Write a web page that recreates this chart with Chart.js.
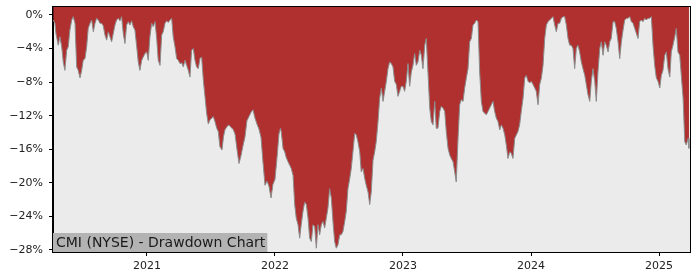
<!DOCTYPE html>
<html>
<head>
<meta charset="utf-8">
<script src="https://cdn.jsdelivr.net/npm/chart.js@4/dist/chart.umd.min.js"></script>
<style>
  html, body { margin: 0; padding: 0; background: #fff; }
  canvas { display: block; }
</style>
</head>
<body>
<canvas id="chart" width="700" height="280"></canvas>
<script>
// drawdown of CMI, dates as decimal years, values in percent
const dates = [
  2020.268, 2020.281, 2020.289, 2020.299, 2020.307, 2020.320, 2020.334, 2020.346, 2020.359, 2020.373,
  2020.385, 2020.398, 2020.412, 2020.424, 2020.438, 2020.451, 2020.463, 2020.477, 2020.490, 2020.502,
  2020.516, 2020.529, 2020.541, 2020.555, 2020.568, 2020.581, 2020.594, 2020.607, 2020.620, 2020.633,
  2020.646, 2020.659, 2020.672, 2020.685, 2020.698, 2020.711, 2020.724, 2020.737, 2020.750, 2020.763,
  2020.776, 2020.789, 2020.802, 2020.815, 2020.828, 2020.841, 2020.854, 2020.867, 2020.880, 2020.893,
  2020.906, 2020.920, 2020.932, 2020.945, 2020.959, 2020.971, 2020.984, 2020.998, 2021.010, 2021.023,
  2021.037, 2021.049, 2021.063, 2021.076, 2021.088, 2021.102, 2021.115, 2021.127, 2021.141, 2021.154,
  2021.166, 2021.180, 2021.193, 2021.205, 2021.219, 2021.232, 2021.245, 2021.258, 2021.271, 2021.284,
  2021.297, 2021.310, 2021.323, 2021.336, 2021.349, 2021.362, 2021.375, 2021.388, 2021.401, 2021.414,
  2021.427, 2021.440, 2021.453, 2021.466, 2021.479, 2021.492, 2021.506, 2021.518, 2021.531, 2021.545,
  2021.557, 2021.570, 2021.586, 2021.598, 2021.609, 2021.625, 2021.641, 2021.656, 2021.672, 2021.688,
  2021.703, 2021.719, 2021.734, 2021.750, 2021.766, 2021.781, 2021.797, 2021.813, 2021.828, 2021.844,
  2021.859, 2021.875, 2021.891, 2021.906, 2021.922, 2021.938, 2021.953, 2021.969, 2021.984, 2022.000,
  2022.016, 2022.031, 2022.043, 2022.049, 2022.063, 2022.076, 2022.088, 2022.102, 2022.115, 2022.127,
  2022.141, 2022.154, 2022.166, 2022.180, 2022.193, 2022.205, 2022.219, 2022.232, 2022.245, 2022.258,
  2022.271, 2022.284, 2022.297, 2022.310, 2022.323, 2022.336, 2022.349, 2022.362, 2022.375, 2022.388,
  2022.401, 2022.414, 2022.427, 2022.440, 2022.453, 2022.466, 2022.479, 2022.492, 2022.506, 2022.518,
  2022.531, 2022.545, 2022.557, 2022.570, 2022.584, 2022.596, 2022.609, 2022.623, 2022.635, 2022.648,
  2022.662, 2022.674, 2022.688, 2022.701, 2022.713, 2022.727, 2022.740, 2022.752, 2022.766, 2022.779,
  2022.791, 2022.805, 2022.818, 2022.831, 2022.844, 2022.857, 2022.870, 2022.883, 2022.896, 2022.909,
  2022.922, 2022.935, 2022.948, 2022.961, 2022.974, 2022.987, 2023.000, 2023.013, 2023.026, 2023.039,
  2023.052, 2023.065, 2023.078, 2023.091, 2023.104, 2023.117, 2023.131, 2023.143, 2023.156, 2023.170,
  2023.182, 2023.195, 2023.209, 2023.221, 2023.234, 2023.248, 2023.260, 2023.273, 2023.287, 2023.299,
  2023.313, 2023.326, 2023.338, 2023.352, 2023.365, 2023.377, 2023.391, 2023.404, 2023.416, 2023.430,
  2023.443, 2023.455, 2023.469, 2023.482, 2023.495, 2023.508, 2023.521, 2023.534, 2023.547, 2023.560,
  2023.573, 2023.586, 2023.599, 2023.612, 2023.625, 2023.638, 2023.651, 2023.664, 2023.677, 2023.690,
  2023.703, 2023.716, 2023.729, 2023.742, 2023.756, 2023.768, 2023.781, 2023.795, 2023.807, 2023.820,
  2023.834, 2023.846, 2023.859, 2023.873, 2023.885, 2023.898, 2023.911, 2023.924, 2023.938, 2023.951,
  2023.963, 2023.977, 2023.990, 2024.002, 2024.016, 2024.029, 2024.041, 2024.055, 2024.068, 2024.081,
  2024.094, 2024.107, 2024.120, 2024.133, 2024.146, 2024.159, 2024.172, 2024.185, 2024.198, 2024.211,
  2024.224, 2024.237, 2024.250, 2024.263, 2024.276, 2024.289, 2024.302, 2024.315, 2024.328, 2024.341,
  2024.354, 2024.367, 2024.380, 2024.393, 2024.406, 2024.420, 2024.432, 2024.445, 2024.459, 2024.471,
  2024.484, 2024.498, 2024.510, 2024.523, 2024.537, 2024.549, 2024.563, 2024.576, 2024.588, 2024.602,
  2024.615, 2024.627, 2024.641, 2024.654, 2024.666, 2024.680, 2024.693, 2024.706, 2024.719, 2024.732,
  2024.745, 2024.758, 2024.771, 2024.784, 2024.797, 2024.810, 2024.823, 2024.836, 2024.849, 2024.862,
  2024.875, 2024.888, 2024.901, 2024.914, 2024.927, 2024.940, 2024.953, 2024.966, 2024.979, 2024.992,
  2025.006, 2025.018, 2025.031, 2025.045, 2025.057, 2025.070, 2025.084, 2025.096, 2025.109, 2025.123,
  2025.135, 2025.148, 2025.162, 2025.174, 2025.188, 2025.201, 2025.213, 2025.227, 2025.234
];

const drawdown = [
  -0.6, -1.0, -2.2, -3.0, -3.6, -2.6, -3.8, -5.6, -6.6, -4.2,
  -3.8, -1.8, -0.6, -0.2, -1.0, -6.2, -6.6, -7.5, -6.6, -5.4,
  -5.2, -3.8, -1.6, -1.0, -0.6, -2.0, -1.0, -0.4, -0.6, -1.0,
  -1.0, -1.3, -2.4, -3.0, -2.0, -2.6, -3.2, -2.2, -1.2, -0.6,
  -0.4, -0.7, -0.2, -2.2, -3.4, -1.2, -0.8, -1.2, -0.7, -1.4,
  -1.8, -3.8, -5.6, -6.6, -5.4, -5.0, -4.6, -4.4, -5.4, -2.6,
  -1.0, -1.4, -0.8, -2.8, -5.4, -6.0, -2.4, -2.0, -1.0, -0.7,
  -0.9, -0.6, -0.4, -2.6, -3.8, -5.2, -5.4, -5.8, -5.7, -6.2,
  -5.4, -6.0, -6.6, -7.4, -4.2, -4.0, -5.4, -6.2, -6.4, -5.2,
  -5.0, -7.7, -9.7, -11.7, -13.0, -12.5, -12.3, -12.1, -12.7, -13.5,
  -13.9, -15.7, -16.1, -14.5, -13.7, -13.3, -13.1, -13.4, -13.6, -14.2,
  -16.0, -17.7, -16.8, -15.6, -14.5, -12.6, -12.1, -11.6, -11.3, -12.3,
  -13.0, -13.6, -14.6, -17.5, -20.3, -19.8, -20.4, -21.8, -20.2, -19.6,
  -17.0, -14.2, -13.5, -13.9, -15.9, -16.3, -17.0, -17.5, -17.9, -18.3,
  -19.1, -22.6, -24.2, -25.0, -26.6, -25.0, -23.4, -22.3, -22.6, -24.2,
  -26.6, -27.0, -25.0, -25.2, -27.8, -25.0, -26.2, -25.0, -24.6, -25.4,
  -24.2, -23.0, -20.7, -21.8, -24.6, -27.0, -27.8, -27.4, -26.2, -26.2,
  -25.8, -24.6, -23.4, -20.7, -19.5, -18.3, -16.3, -14.1, -14.3, -15.1,
  -16.3, -18.7, -18.3, -19.5, -20.3, -21.1, -22.6, -21.1, -17.3, -16.3,
  -15.1, -12.7, -9.9, -8.7, -10.3, -9.1, -7.9, -6.4, -5.6, -5.8,
  -6.2, -7.9, -8.3, -9.7, -9.1, -8.5, -8.5, -9.1, -7.9, -5.8,
  -8.5, -6.8, -6.0, -4.6, -6.0, -5.6, -4.2, -4.8, -6.4, -3.6,
  -2.8, -6.8, -11.1, -12.7, -13.1, -10.3, -13.5, -13.5, -11.5, -10.9,
  -11.1, -11.5, -13.9, -15.9, -16.7, -17.1, -17.5, -18.7, -19.9, -14.7,
  -10.7, -10.1, -10.3, -8.7, -7.5, -6.4, -3.2, -2.8, -1.2, -1.0,
  -0.6, -0.8, -6.8, -10.3, -11.5, -11.7, -11.9, -11.5, -11.1, -10.7,
  -10.3, -11.5, -12.3, -12.7, -13.7, -13.1, -13.5, -14.3, -15.5, -17.1,
  -16.3, -16.5, -17.1, -14.7, -14.3, -13.9, -13.1, -11.5, -9.9, -7.5,
  -7.2, -7.9, -8.1, -7.9, -8.3, -8.7, -9.1, -10.7, -8.3, -7.5,
  -6.0, -2.8, -1.2, -0.8, -0.6, -0.4, -0.2, -1.2, -2.0, -1.0,
  -1.0, -0.4, -0.2, -0.2, -1.2, -2.8, -3.6, -3.6, -4.0, -6.4,
  -4.0, -3.6, -4.4, -5.6, -6.4, -7.2, -8.3, -9.5, -10.3, -7.9,
  -6.4, -7.9, -10.3, -6.8, -4.0, -3.2, -4.8, -3.2, -3.6, -4.4,
  -3.2, -2.8, -0.8, -0.8, -1.6, -3.2, -5.2, -3.2, -1.8, -0.6,
  -0.4, -0.4, -0.2, -0.8, -1.0, -1.6, -2.2, -2.8, -0.8, -0.6,
  -0.8, -0.4, -0.6, -0.4, -0.4, -0.2, -3.6, -6.0, -7.5, -7.9,
  -8.7, -7.2, -6.6, -4.8, -4.4, -6.4, -7.4, -4.4, -3.6, -2.6,
  -1.6, -4.4, -4.8, -7.2, -9.9, -15.1, -15.5, -14.7, -15.9
];

const yearTicks = [2021, 2022, 2023, 2024, 2025];
const pctTicks = [0, -4, -8, -12, -16, -20, -24, -28];
const chartLabel = 'CMI (NYSE) - Drawdown Chart';

const tickFont = { family: 'DejaVu Sans', size: 11 };

const frame = {
    id: 'frame',
    beforeDraw(chart) {
        const { ctx, chartArea: a } = chart;
        ctx.save();
        ctx.fillStyle = '#ebebeb';
        ctx.fillRect(a.left, a.top, a.right - a.left, a.bottom - a.top);
        ctx.restore();
    },
    afterDatasetsDraw(chart) {
        const { ctx, chartArea: a } = chart;
        ctx.save();
        // label box at lower left
        ctx.font = '14px "DejaVu Sans"';
        const w = ctx.measureText(chartLabel).width;
        ctx.fillStyle = '#b3b3b3';
        ctx.fillRect(a.left, a.bottom - 19, w + 5, 19);
        ctx.fillStyle = '#1a1a1a';
        ctx.textBaseline = 'middle';
        ctx.fillText(chartLabel, a.left + 3, a.bottom - 9);
        ctx.restore();
    },
    afterDraw(chart) {
        const { ctx, chartArea: a } = chart;
        ctx.save();
        ctx.strokeStyle = '#000';
        ctx.lineWidth = 1;
        ctx.strokeRect(Math.round(a.left) - 0.5, Math.round(a.top) - 0.5,
            Math.round(a.right - a.left) + 1, Math.round(a.bottom - a.top) + 1);
        ctx.restore();
    }
};

// keep the plot box where the layout padding puts it
function noEdgePadding(s) {
    s.paddingTop = 0;
    s.paddingBottom = 0;
    s.paddingLeft = 0;
    s.paddingRight = 0;
}

new Chart(document.getElementById('chart'), {
    type: 'line',
    data: {
        datasets: [{
            data: dates.map((d, i) => ({ x: d, y: drawdown[i] })),
            borderColor: '#8c8c8c',
            borderWidth: 1,
            backgroundColor: '#b03030',
            fill: 'end',
            pointRadius: 0,
            tension: 0
        }]
    },
    options: {
        responsive: false,
        animation: false,
        devicePixelRatio: 1,
        layout: { padding: { top: 7, right: 10, left: 0, bottom: 0 } },
        plugins: { legend: { display: false }, tooltip: { enabled: false } },
        scales: {
            x: {
                type: 'linear',
                min: 2020.266,
                max: 2025.242,
                afterFit: s => { s.height = 28; noEdgePadding(s); },
                afterBuildTicks: s => { s.ticks = yearTicks.map(v => ({ value: v })); },
                ticks: { callback: v => String(v), font: tickFont, color: '#222', padding: 4, maxRotation: 0, autoSkip: false },
                grid: { drawOnChartArea: false, tickLength: 4, color: '#000' },
                border: { color: '#000' }
            },
            y: {
                min: -28.25,
                max: 0.95,
                afterFit: s => { s.width = 53; noEdgePadding(s); },
                afterBuildTicks: s => { s.ticks = pctTicks.map(v => ({ value: v })); },
                ticks: {
                    callback: v => (v === 0 ? '0%' : '\u2212' + Math.abs(v) + '%'),
                    font: tickFont, color: '#222', padding: 6, autoSkip: false
                },
                grid: { drawOnChartArea: false, tickLength: 4, color: '#000' },
                border: { color: '#000' }
            }
        }
    },
    plugins: [frame]
});
</script>
</body>
</html>
